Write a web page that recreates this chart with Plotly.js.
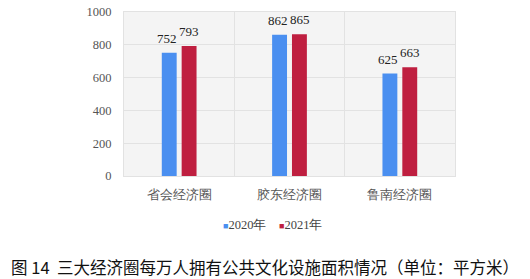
<!DOCTYPE html>
<html><head><meta charset="utf-8">
<script src="https://cdn.plot.ly/plotly-3.0.1.min.js"></script>
<style>html,body{margin:0;padding:0;background:#fff}</style>
</head><body>
<div id="chart" style="width:530px;height:279px"></div>
<script>
const categories = ["省会经济圈", "胶东经济圈", "鲁南经济圈"];
const series2020 = [752, 862, 625];
const series2021 = [793, 865, 663];
const seriesNames = ["2020年", "2021年"];
const yTicks = [0, 200, 400, 600, 800, 1000];
const captionText = "图 14  三大经济圈每万人拥有公共文化设施面积情况（单位：平方米）";

const colors = ["#4a8ff0", "#bf1f40"];
const serif = "Liberation Serif";

const traces = [series2020, series2021].map((vals, i) => ({
  type: "bar", x: categories, y: vals, name: seriesNames[i],
  marker: {color: colors[i]}, hoverinfo: "none", showlegend: false
}));

const annotations = [];
[series2020, series2021].forEach((vals, i) => {
  vals.forEach((v, j) => {
    annotations.push({
      x: categories[j], y: v, xref: "x", yref: "y",
      text: String(v), showarrow: false, yanchor: "bottom",
      xshift: i === 0 ? -12 : 10, yshift: 5,
      font: {family: serif, size: 13, color: "#222"}
    });
  });
});
// legend (series names) drawn as text
seriesNames.forEach((nm, i) => {
  annotations.push({
    xref: "paper", yref: "paper", x: i === 0 ? 0.294 : 0.463, y: -0.30,
    xanchor: "left", yanchor: "middle", showarrow: false,
    text: "<span style='color:" + colors[i] + ";font-size:9px'>■</span>" + nm,
    font: {family: serif, size: 12.5, color: "#444"}
  });
});

const layout = {
  width: 530, height: 279,
  margin: {l: 124, r: 75, t: 12, b: 103},
  paper_bgcolor: "#ffffff", plot_bgcolor: "#f4f4f4",
  barmode: "group", bargap: 0.64, bargroupgap: 0.25,
  showlegend: false,
  title: {text: captionText, xref: "container", yref: "container",
    x: 0.5, xanchor: "center", y: 0.04, yanchor: "middle",
    font: {family: "Noto Sans CJK SC", size: 16.5, color: "#111"}},
  xaxis: {type: "category", showgrid: true, tickson: "boundaries", gridcolor: "#e2e2e2",
    ticks: "", ticklabelstandoff: 7, showline: true, linecolor: "#e2e2e2", mirror: true,
    tickfont: {family: serif, size: 12.5, color: "#555"}, fixedrange: true},
  yaxis: {range: [0, 1000], tickvals: yTicks, ticktext: yTicks.map(String),
    showgrid: true, gridcolor: "#e2e2e2", zeroline: false, ticks: "", ticklabelstandoff: 9,
    showline: true, linecolor: "#e2e2e2", mirror: true,
    tickfont: {family: serif, size: 12.5, color: "#555"}, fixedrange: true},
  annotations: annotations
};

Plotly.newPlot("chart", traces, layout, {displayModeBar: false, staticPlot: true});
</script>
</body></html>
